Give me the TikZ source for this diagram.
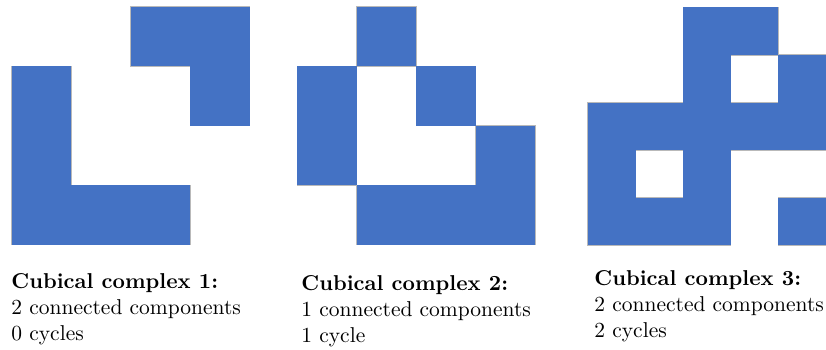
\documentclass[tikz,border=0pt]{standalone}
\definecolor{cellblue}{HTML}{4472C4}
\begin{document}
\begin{tikzpicture}[x=1pt,y=-1pt,
  cell/.style={fill=cellblue},
  cellline/.style={draw=gray!55,line width=1.2pt},
  lbl/.style={anchor=base west,inner sep=0pt,font=\fontsize{10}{12}\selectfont,scale=2.15}]
\useasboundingbox (0,0) rectangle (826,349);
% complex 1
\def\cs{59.4}
\foreach \c/\r in {2/0,3/0,0/1,3/1,0/2,0/3,1/3,2/3}{
  \path[cellline] ({12+\c*\cs},{7+\r*\cs}) rectangle ++(\cs,\cs);}
\foreach \c/\r in {2/0,3/0,0/1,3/1,0/2,0/3,1/3,2/3}{
  \path[cell] ({12+\c*\cs},{7+\r*\cs}) rectangle ++(\cs,\cs);}
% complex 2
\foreach \c/\r in {1/0,0/1,2/1,0/2,3/2,1/3,2/3,3/3}{
  \path[cellline] ({297.3+\c*\cs},{7+\r*\cs}) rectangle ++(\cs,\cs);}
\foreach \c/\r in {1/0,0/1,2/1,0/2,3/2,1/3,2/3,3/3}{
  \path[cell] ({297.3+\c*\cs},{7+\r*\cs}) rectangle ++(\cs,\cs);}
% complex 3
\def\ct{47.6}
\foreach \c/\r in {2/0,3/0,2/1,4/1,0/2,1/2,2/2,3/2,4/2,0/3,2/3,0/4,1/4,2/4,4/4}{
  \path[cellline] ({588+\c*\ct},{7.3+\r*\ct}) rectangle ++(\ct,\ct);}
\foreach \c/\r in {2/0,3/0,2/1,4/1,0/2,1/2,2/2,3/2,4/2,0/3,2/3,0/4,1/4,2/4,4/4}{
  \path[cell] ({588+\c*\ct},{7.3+\r*\ct}) rectangle ++(\ct,\ct);}
% labels
\node[lbl] (t1a) at (11,288) {\bfseries Cubical complex 1:};
\node[lbl] (t1b) at (11,314) {2 connected components};
\node[lbl] (t1c) at (11,340) {0 cycles};
\node[lbl] (t2a) at (301,290.5) {\bfseries Cubical complex 2:};
\node[lbl] (t2b) at (301,316.5) {1 connected components};
\node[lbl] (t2c) at (301,342) {1 cycle};
\node[lbl] (t3a) at (594,285) {\bfseries Cubical complex 3:};
\node[lbl] (t3b) at (594,311) {2 connected components};
\node[lbl] (t3c) at (594,337) {2 cycles};
\end{tikzpicture}
\end{document}
